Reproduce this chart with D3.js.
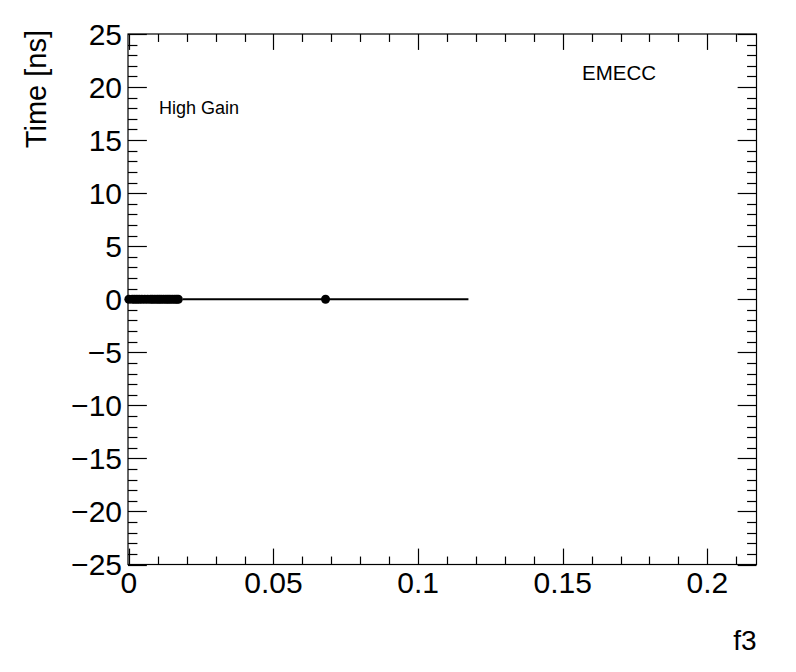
<!DOCTYPE html>
<html>
<head>
<meta charset="utf-8">
<script src="https://cdn.jsdelivr.net/npm/d3@7"></script>
<style>
  html, body { margin: 0; padding: 0; background: #fff; }
  svg { display: block; }
  text { font-family: "Liberation Sans", Arial, Helvetica, sans-serif; fill: #000; }
</style>
</head>
<body>
<svg id="chart" width="796" height="672"></svg>
<script>
// ---- data ----
const xValues = [0.0, 0.0012, 0.002, 0.0028, 0.0036, 0.0045, 0.0055, 0.0065, 0.0075, 0.0082, 0.009, 0.0098, 0.0105, 0.0112, 0.012, 0.0128, 0.0135, 0.0142, 0.015, 0.0158, 0.0165, 0.0171, 0.068];
const yValues = [0, 0, 0, 0, 0, 0, 0, 0, 0, 0, 0, 0, 0, 0, 0, 0, 0, 0, 0, 0, 0, 0, 0];
const xErrors = [0, 0, 0, 0, 0, 0, 0, 0, 0, 0, 0, 0, 0, 0, 0, 0, 0, 0, 0, 0, 0, 0, 0.0494];
const xMajorTicks = [0, 0.05, 0.1, 0.15, 0.2];
const xTickLabels = ["0", "0.05", "0.1", "0.15", "0.2"];
const yMajorTicks = [-25, -20, -15, -10, -5, 0, 5, 10, 15, 20, 25];
const yTickLabels = ["\u221225", "\u221220", "\u221215", "\u221210", "\u22125", "0", "5", "10", "15", "20", "25"];
const xDomain = [-0.0003, 0.2170];
const yDomain = [-25, 25];
const xTitle = "f3";
const yTitle = "Time [ns]";
const labels = ["High Gain", "EMECC"];

// ---- layout ----
const F = { left: 128, right: 756.5, top: 34, bottom: 564.5 };
const svg = d3.select("#chart");
const x = d3.scaleLinear().domain(xDomain).range([F.left, F.right]);
const y = d3.scaleLinear().domain(yDomain).range([F.bottom, F.top]);

const fw = F.right - F.left, fh = F.bottom - F.top;
const xMajLen = 0.03 * fh, xMinLen = xMajLen / 2;
const yMajLen = 0.03 * fw, yMinLen = yMajLen / 2;

const xMinor = d3.range(0, 0.2170001, 0.01).map(v => +v.toFixed(4)).filter(v => !xMajorTicks.includes(v));
const yMinor = d3.range(-25, 26, 1).filter(v => !yMajorTicks.includes(v));

const g = svg.append("g");

// frame
g.append("rect").attr("x", F.left).attr("y", F.top).attr("width", fw).attr("height", fh)
  .attr("fill", "none").attr("stroke", "#000").attr("stroke-width", 1.2);

// ticks
const tickG = g.append("g").attr("stroke", "#000").attr("stroke-width", 1.2);
function xTicks(vals, len) {
  vals.forEach(v => {
    const px = Math.round(x(v)) + 0.5;
    tickG.append("line").attr("x1", px).attr("x2", px).attr("y1", F.bottom).attr("y2", F.bottom - len);
    tickG.append("line").attr("x1", px).attr("x2", px).attr("y1", F.top).attr("y2", F.top + len);
  });
}
function yTicks(vals, len) {
  vals.forEach(v => {
    const py = Math.round(y(v)) + 0.5;
    tickG.append("line").attr("y1", py).attr("y2", py).attr("x1", F.left).attr("x2", F.left + len);
    tickG.append("line").attr("y1", py).attr("y2", py).attr("x1", F.right).attr("x2", F.right - len);
  });
}
xTicks(xMajorTicks, xMajLen);
xTicks(xMinor, xMinLen);
yTicks(yMajorTicks, yMajLen);
yTicks(yMinor, yMinLen);

// tick labels
xMajorTicks.forEach((v, i) => {
  g.append("text").attr("x", x(v)).attr("y", 593).attr("text-anchor", "middle")
    .attr("font-size", 30).text(xTickLabels[i]);
});
yMajorTicks.forEach((v, i) => {
  g.append("text").attr("x", 122).attr("y", y(v) + 10.8).attr("text-anchor", "end")
    .attr("font-size", 30).text(yTickLabels[i]);
});

// axis titles
g.append("text").attr("x", F.right).attr("y", 650).attr("text-anchor", "end")
  .attr("font-size", 28).text(xTitle);
g.append("text").attr("transform", `translate(46,${F.top - 4}) rotate(-90)`)
  .attr("text-anchor", "end").attr("font-size", 29).text(yTitle);

// labels
g.append("text").attr("x", 159).attr("y", 114).attr("font-size", 18).text(labels[0]);
g.append("text").attr("x", 582).attr("y", 80).attr("font-size", 20.5).text(labels[1]);

// error bars
const dataG = g.append("g");
xValues.forEach((v, i) => {
  if (xErrors[i] > 0) {
    dataG.append("line")
      .attr("x1", x(v - xErrors[i])).attr("x2", x(v + xErrors[i]))
      .attr("y1", y(yValues[i])).attr("y2", y(yValues[i]))
      .attr("stroke", "#000").attr("stroke-width", 2);
  }
});
// markers
dataG.selectAll("circle").data(xValues).join("circle")
  .attr("cx", d => x(d)).attr("cy", (d, i) => y(yValues[i]))
  .attr("r", 4.5).attr("fill", "#000");
</script>
</body>
</html>
